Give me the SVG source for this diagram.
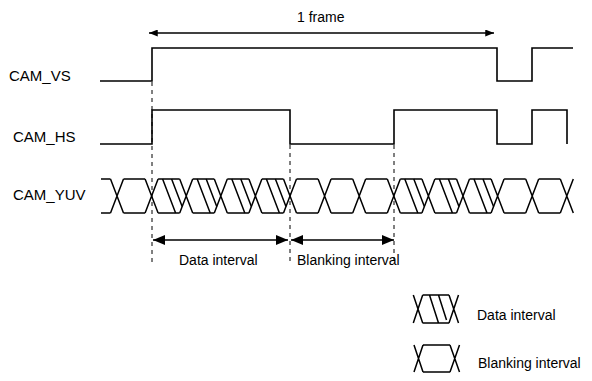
<svg xmlns="http://www.w3.org/2000/svg" xmlns:xlink="http://www.w3.org/1999/xlink" width="592" height="381" viewBox="0 0 592 381">
<style>
.sig{fill:none;stroke:#000;stroke-width:1.6;stroke-linejoin:miter}
.bus{fill:none;stroke:#000;stroke-width:1.5}
.dash{fill:none;stroke:#000;stroke-width:1;stroke-dasharray:4,4}
.arr{fill:none;stroke:#000;stroke-width:1.6}
text{font-family:"Liberation Sans",Arial,sans-serif;fill:#000}
.lbl{font-size:15px}
.txt{font-size:14px}
</style>
<defs>
<marker id="ah1" viewBox="0 0 10 8" refX="10" refY="4" markerWidth="9" markerHeight="7" markerUnits="userSpaceOnUse" orient="auto-start-reverse"><path d="M0,0 L10,4 L0,8 z" fill="#000"/></marker>
<marker id="ah2" viewBox="0 0 12 10" refX="12" refY="5" markerWidth="12" markerHeight="10" markerUnits="userSpaceOnUse" orient="auto-start-reverse"><path d="M0,0 L12,5 L0,10 z" fill="#000"/></marker>
<path id="xing" d="M-6.5,0 L6.5,34 M-6.5,34 L6.5,0"/>
<path id="flat" d="M6.5,0 H28.1 M6.5,34 H28.1"/>
<path id="hatch" d="M11,0 L24,34 M20,0 L30.55,27.6"/>
</defs>

<g id="labels">
<text class="lbl" x="9" y="81">CAM_VS</text>
<text class="lbl" x="13" y="142">CAM_HS</text>
<text class="lbl" x="13" y="200">CAM_YUV</text>
</g>

<g id="cam_vs">
<path class="sig" d="M100,81 H152 V48 H497 V81 H532 V48 H573"/>
</g>
<g id="cam_hs">
<path class="sig" d="M100,144 H152 V110 H290 V144 H394 V110 H497 V144 H532 V110 H567 V144"/>
</g>

<g id="cam_yuv" class="bus" transform="translate(0,179)">
<path d="M101,0 H110.5 M101,34 H110.5"/>
<use xlink:href="#xing" x="117"/>
<use xlink:href="#xing" x="151.6"/>
<use xlink:href="#xing" x="186.2"/>
<use xlink:href="#xing" x="220.8"/>
<use xlink:href="#xing" x="255.4"/>
<use xlink:href="#xing" x="290"/>
<use xlink:href="#xing" x="324.6"/>
<use xlink:href="#xing" x="359.2"/>
<use xlink:href="#xing" x="393.8"/>
<use xlink:href="#xing" x="428.4"/>
<use xlink:href="#xing" x="463"/>
<use xlink:href="#xing" x="497.6"/>
<use xlink:href="#xing" x="532.2"/>
<use xlink:href="#xing" x="566.8"/>
<use xlink:href="#flat" x="117"/>
<use xlink:href="#flat" x="151.6"/>
<use xlink:href="#flat" x="186.2"/>
<use xlink:href="#flat" x="220.8"/>
<use xlink:href="#flat" x="255.4"/>
<use xlink:href="#flat" x="290"/>
<use xlink:href="#flat" x="324.6"/>
<use xlink:href="#flat" x="359.2"/>
<use xlink:href="#flat" x="393.8"/>
<use xlink:href="#flat" x="428.4"/>
<use xlink:href="#flat" x="463"/>
<use xlink:href="#flat" x="497.6"/>
<use xlink:href="#flat" x="532.2"/>
<use xlink:href="#hatch" x="151.6"/>
<use xlink:href="#hatch" x="186.2"/>
<use xlink:href="#hatch" x="220.8"/>
<use xlink:href="#hatch" x="255.4"/>
<use xlink:href="#hatch" x="393.8"/>
<use xlink:href="#hatch" x="428.4"/>
<use xlink:href="#hatch" x="463"/>
</g>

<g id="connectors">
<path class="dash" d="M152,82 V264"/>
<path class="dash" d="M290,145 V264"/>
<path class="dash" d="M394,145 V264"/>
<path class="arr" d="M149,33 H494" marker-start="url(#ah1)" marker-end="url(#ah1)"/>
<path class="arr" d="M153,240 H288" marker-start="url(#ah2)" marker-end="url(#ah2)"/>
<path class="arr" d="M291,240 H394" marker-start="url(#ah2)" marker-end="url(#ah2)"/>
</g>

<g id="annotations">
<text class="txt" x="297" y="22">1 frame</text>
<text class="txt" x="179" y="265">Data interval</text>
<text class="txt" x="297" y="265">Blanking interval</text>
</g>

<g id="legend" class="bus">
<g id="legend_data">
<path d="M413.3,295 L422.7,323 M413.3,323 L422.7,295 M422.7,295 H449 M422.7,323 H449 M449,295 L458.5,323 M449,323 L458.5,295 M429.5,295 L438.5,323 M438.5,295 L446.5,320"/>
<text class="txt" x="477" y="320" style="stroke:none">Data interval</text>
</g>
<g id="legend_blank">
<path d="M414,345 L423,372 M414,372 L423,345 M423,345 H450 M423,372 H450 M450,345 L459.5,372 M450,372 L459.5,345"/>
<text class="txt" x="478" y="368" style="stroke:none">Blanking interval</text>
</g>
</g>
</svg>
